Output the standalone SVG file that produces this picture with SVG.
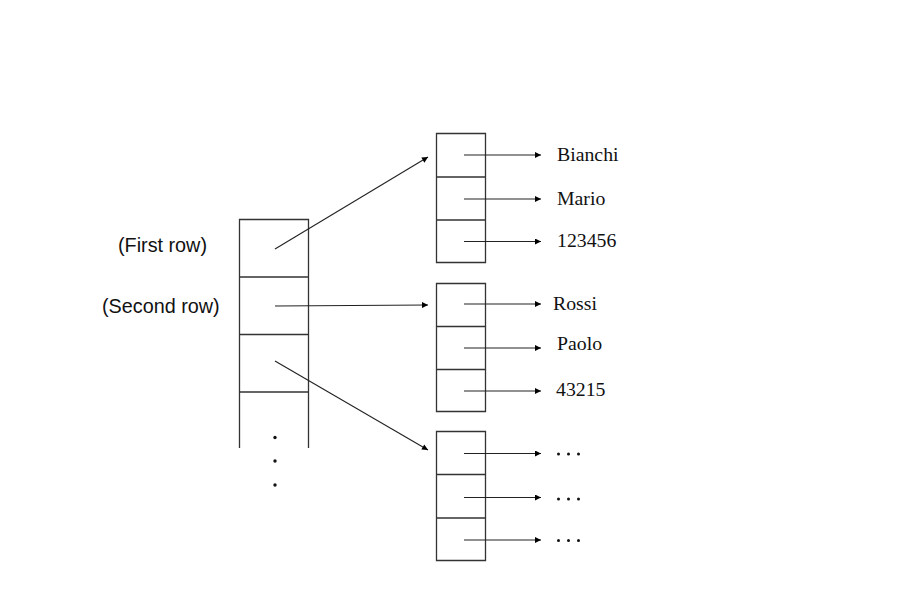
<svg xmlns="http://www.w3.org/2000/svg" width="900" height="600" viewBox="0 0 900 600">
<defs>
<marker id="ah" viewBox="0 0 10 10" refX="10" refY="5" markerWidth="7" markerHeight="6" markerUnits="userSpaceOnUse" orient="auto">
<path d="M0,0 L10,5 L0,10 z" fill="#000"/>
</marker>
<style>
.box{fill:none;stroke:#333;stroke-width:1.3}
.ln{stroke:#222;stroke-width:1.1;fill:none}
.ar{stroke:#222;stroke-width:1.1;fill:none;marker-end:url(#ah)}
.val{font-family:"Liberation Serif","Times New Roman",serif;font-size:19.8px;fill:#111}
.lbl{font-family:"Liberation Sans",Arial,sans-serif;font-size:19.8px;fill:#111}
.dot{fill:#111}
</style>
</defs>
<rect width="900" height="600" fill="#fff"/>
<g id="table">
<path class="box" d="M239.5,448 V219.5 H308.5 V448 M239.5,277 H308.5 M239.5,334.5 H308.5 M239.5,392 H308.5"/>
<circle class="dot" cx="275" cy="437.5" r="1.7"/>
<circle class="dot" cx="275" cy="461" r="1.7"/>
<circle class="dot" cx="275" cy="485" r="1.7"/>
</g>
<g id="label-first"><text class="lbl" x="118" y="252">(First row)</text></g>
<g id="label-second"><text class="lbl" x="102" y="313">(Second row)</text></g>
<g id="record1">
<path class="box" d="M436.5,133.5 H485.5 V262.5 H436.5 Z M436.5,177 H485.5 M436.5,220 H485.5"/>
<text class="val" x="557" y="161">Bianchi</text>
<text class="val" x="557" y="205">Mario</text>
<text class="val" x="557" y="247">123456</text>
</g>
<g id="record2">
<path class="box" d="M436.5,283.5 H485.5 V411.5 H436.5 Z M436.5,326.5 H485.5 M436.5,369.5 H485.5"/>
<text class="val" x="553" y="310">Rossi</text>
<text class="val" x="557" y="350">Paolo</text>
<text class="val" x="556" y="396">43215</text>
</g>
<g id="record3">
<path class="box" d="M436.5,431.5 H485.5 V560.5 H436.5 Z M436.5,474.5 H485.5 M436.5,518 H485.5"/>
<g class="dot">
<circle cx="558.5" cy="454" r="1.5"/><circle cx="568.5" cy="454" r="1.5"/><circle cx="578.5" cy="454" r="1.5"/>
<circle cx="558.5" cy="499" r="1.5"/><circle cx="568.5" cy="499" r="1.5"/><circle cx="578.5" cy="499" r="1.5"/>
<circle cx="558.5" cy="540.5" r="1.5"/><circle cx="568.5" cy="540.5" r="1.5"/><circle cx="578.5" cy="540.5" r="1.5"/>
</g>
</g>
<g id="connectors">
<line class="ar" x1="275" y1="249" x2="428" y2="157"/>
<line class="ar" x1="275" y1="306" x2="428" y2="305"/>
<line class="ar" x1="275" y1="361" x2="428" y2="450"/>
<line class="ar" x1="464" y1="155" x2="541" y2="155"/>
<line class="ar" x1="464" y1="199" x2="541" y2="199"/>
<line class="ar" x1="464" y1="241.5" x2="541" y2="241.5"/>
<line class="ar" x1="464" y1="304" x2="541" y2="304"/>
<line class="ar" x1="464" y1="348" x2="541" y2="348"/>
<line class="ar" x1="464" y1="391" x2="541" y2="391"/>
<line class="ar" x1="464" y1="453.5" x2="541" y2="453.5"/>
<line class="ar" x1="464" y1="497.5" x2="541" y2="497.5"/>
<line class="ar" x1="464" y1="540" x2="541" y2="540"/>
</g>
</svg>
